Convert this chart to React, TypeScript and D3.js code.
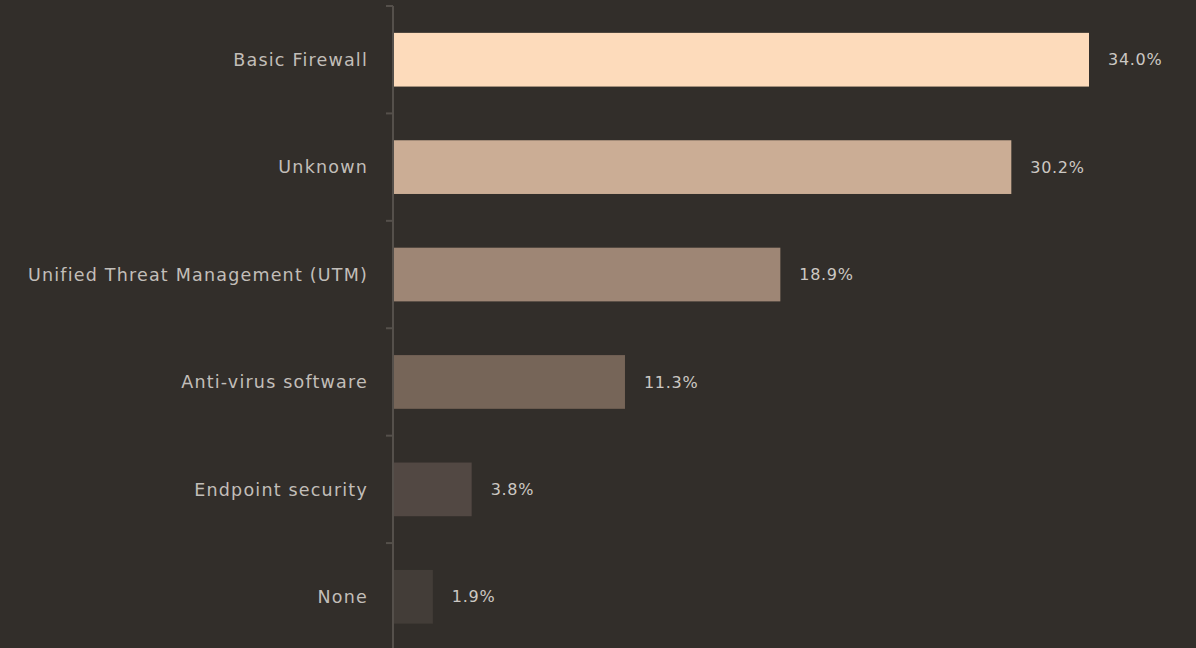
import React from "react";
import * as d3 from "d3";

const categories = [
  "Basic Firewall",
  "Unknown",
  "Unified Threat Management (UTM)",
  "Anti-virus software",
  "Endpoint security",
  "None",
];
const values = [34.0, 30.2, 18.9, 11.3, 3.8, 1.9];
const colors = ["#fddbbb", "#cbad95", "#9e8675", "#766558", "#524843", "#433d38"];

const W = 1196;
const H = 648;

export default function App() {
  const x = d3.scaleLinear().domain([0, 34]).range([394, 1089]);
  const y = d3
    .scaleBand<string>()
    .domain(categories)
    .range([6, 650.5])
    .paddingInner(0.5)
    .paddingOuter(0.25);
  const step = y.step();
  const tickYs = d3.range(categories.length + 1).map((i) => 6 + i * step);
  const font = "'DejaVu Sans', 'Noto Sans', sans-serif";
  return (
    <div style={{ position: "fixed", left: 0, top: 0, width: W, height: H, background: "#322e2a" }}>
      <svg width={W} height={H} style={{ display: "block" }}>
        <rect x={0} y={0} width={W} height={H} fill="#322e2a" />
        {categories.map((c, i) => (
          <rect
            key={c}
            x={x(0)}
            y={y(c)!}
            width={x(values[i]) - x(0)}
            height={y.bandwidth()}
            fill={colors[i]}
          />
        ))}
        <line x1={393} x2={393} y1={6} y2={H} stroke="#55504b" strokeWidth={2} />
        {tickYs.map((ty, i) => (
          <line key={i} x1={386} x2={393} y1={ty} y2={ty} stroke="#55504b" strokeWidth={2} />
        ))}
        {categories.map((c) => (
          <text
            key={c}
            x={368}
            y={y(c)! + y.bandwidth() / 2}
            dy="0.35em"
            textAnchor="end"
            fill="#c2beb9"
            fontFamily={font}
            fontSize={17.5}
            letterSpacing={1.2}
          >
            {c}
          </text>
        ))}
        {categories.map((c, i) => (
          <text
            key={c}
            x={x(values[i]) + 19}
            y={y(c)! + y.bandwidth() / 2}
            dy="0.35em"
            textAnchor="start"
            fill="#ccc8c3"
            fontFamily={font}
            fontSize={16}
            letterSpacing={0.7}
          >
            {values[i].toFixed(1)}%
          </text>
        ))}
      </svg>
    </div>
  );
}
